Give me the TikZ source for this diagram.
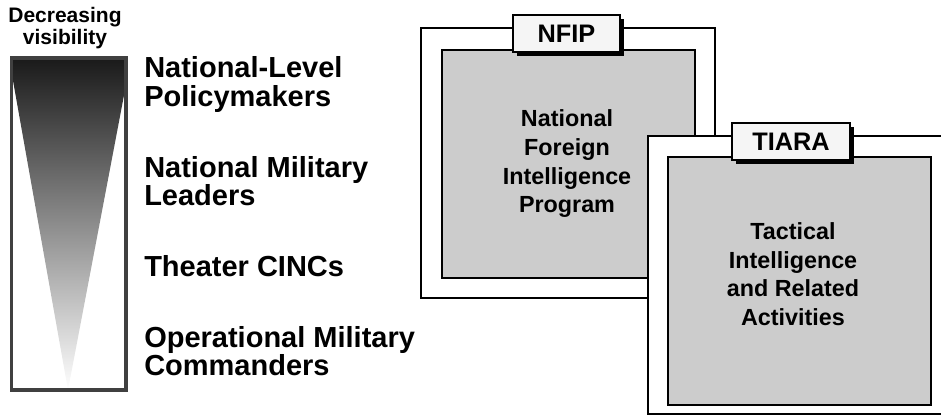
\documentclass[tikz,border=0pt]{standalone}
\usepackage{fontspec}
\setmainfont{Liberation Sans}
\usetikzlibrary{shadows}
\tikzset{
  lbl/.style={anchor=west, align=left, inner sep=0pt, font=\bfseries\fontsize{21.75}{21.5}\selectfont},
  head/.style={align=center, inner sep=0pt, font=\bfseries\fontsize{15.75}{16.2}\selectfont},
  boxtxt/.style={align=center, inner sep=0pt, font=\bfseries\fontsize{17.5}{21.5}\selectfont},
  frame/.style={draw, line width=1.5pt, fill=white, inner sep=0pt},
  panel/.style={draw, line width=1.5pt, fill=black!20, inner sep=0pt},
  tab/.style={draw, line width=1.2pt, fill=black!4, inner sep=0pt, minimum height=27.75pt,
    drop shadow={shadow xshift=3pt, shadow yshift=-3pt, fill=black, opacity=1},
    font=\bfseries\fontsize{19}{19}\selectfont},
}
\begin{document}
\begin{tikzpicture}[x=0.75pt, y=-0.75pt]
\clip (0,0) rectangle (941,417);
\node[head] (vis) at (65,28.3) {Decreasing\\visibility};
\shade[top color=black!90, bottom color=white] (12,58) -- (125,58) -- (125,90) -- (68,390) -- (12,75) -- cycle;
\draw[line width=2.5pt, draw=black!75] (11.5,58) rectangle (126,390);
\node[lbl] (policy) at (144,84.5) {National-Level\\Policymakers};
\node[lbl] (leaders) at (144,181) {National Military\\Leaders};
\node[lbl] (cincs) at (144,266.5) {Theater CINCs};
\node[lbl] (opcmd) at (144,351) {Operational Military\\Commanders};
\node[frame, minimum width=220.5pt, minimum height=202.5pt] (nfipframe) at (568,163) {};
\node[panel, minimum width=189.75pt, minimum height=171pt] (nfippanel) at (568.5,164) {};
\node[tab, minimum width=80.25pt] (nfiptab) at (566.5,33.5) {NFIP};
\node[boxtxt] (nfiptxt) at (567,164) {National\\Foreign\\Intelligence\\Program};
\node[frame, minimum width=222.75pt, minimum height=208.5pt] (tiaraframe) at (796.5,275) {};
\node[panel, minimum width=197.25pt, minimum height=186pt] (tiarapanel) at (799.5,281) {};
\node[tab, minimum width=88.5pt] (tiaratab) at (791,141.5) {TIARA};
\node[boxtxt] (tiaratxt) at (793,274) {Tactical\\Intelligence\\and Related\\Activities};
\end{tikzpicture}
\end{document}
